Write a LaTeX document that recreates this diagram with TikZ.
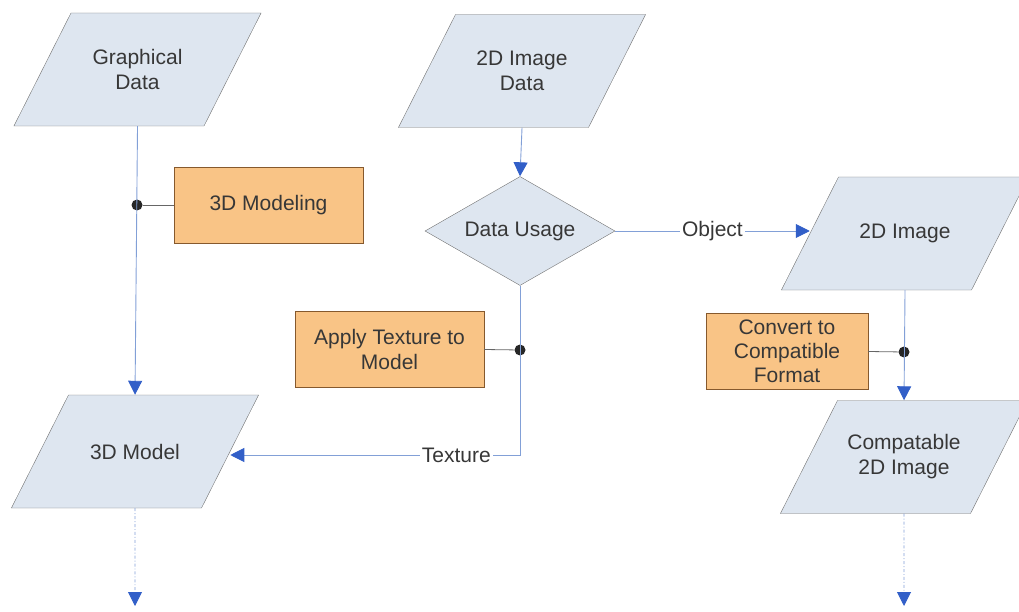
\documentclass[tikz,border=0pt]{standalone}
\usepackage{fontspec}
\setmainfont{Liberation Sans}
\usepackage{tikz}
\usetikzlibrary{positioning,shapes.geometric,arrows.meta}

\definecolor{databox}{RGB}{222,230,240}
\definecolor{procbox}{RGB}{249,196,134}
\definecolor{flowline}{RGB}{130,160,215}
\definecolor{tipblue}{RGB}{50,95,200}
\definecolor{textgray}{RGB}{55,55,55}
\newcommand{\datalabel}[1]{\parbox[c][113pt][c]{133pt}{\centering #1}}

\begin{document}
\begin{tikzpicture}[
				x=1pt, y=-1pt,
				font=\fontsize{21}{25}\selectfont, text=textgray,
				datanode/.style={trapezium, trapezium left angle=63.2, trapezium right angle=116.8, draw=gray!90!black, fill=databox, inner sep=0pt},
				decisionnode/.style={diamond, draw=gray!90!black, fill=databox, minimum width=190pt, minimum height=109pt, inner sep=0pt, aspect=1.75},
				processnode/.style={rectangle, draw=brown!70!black, fill=procbox, minimum height=76pt, inner sep=0pt, align=center},
				flow/.style={draw=flowline, line width=0.9pt, -{Triangle[length=14pt,width=14pt,color=tipblue]}},
				link/.style={draw=gray!80!black, line width=0.8pt},
				junction/.style={circle, fill=black!85, inner sep=0pt, minimum size=11pt},
				]
				\useasboundingbox (0,0) rectangle (1019,612);
				\clip (0,0) rectangle (1019,612);
				%Nodes
				\node[datanode](gdata) at (137.5,69.5){\datalabel{Graphical\\Data}};
				\node[datanode](imgdata) at (522,71){\datalabel{2D Image\\Data}};
				\node[decisionnode](usage) at (520,231){Data Usage};
				\node[datanode](img) at (905,233.5){\datalabel{2D Image}};
				\node[datanode](model) at (135,451.5){\datalabel{3D Model}};
				\node[datanode](compimg) at (904,457){\datalabel{Compatable\\2D Image}};
				\node[processnode, minimum width=189pt](modeling) at (268.5,205){3D Modeling};
				\node[processnode, minimum width=189pt](texturing) at (389.5,349.5){Apply Texture to\\Model};
				\node[processnode, minimum width=162pt, font=\fontsize{21}{24}\selectfont](convert) at (787,351.5){Convert to\\Compatible\\Format};
				\node[junction](j1) at (137,205){};
				\node[junction](j2) at (520,350){};
				\node[junction](j3) at (904,352){};
				\coordinate(corner) at (520,455);
				\coordinate(modelout) at (135,606);
				\coordinate(compout) at (904,606);
				
				%Lines
				\draw[flow] (gdata.south) -- (model.north);
				\draw[flow] (imgdata.south) -- (usage.north);
				\draw[flow] (usage.east) -- node[fill=white, inner sep=2pt]{Object} (img.west |- usage.east);
				\draw[flow] (usage.south) -- (corner) -- node[pos=0.22, fill=white, inner sep=2pt]{Texture} (model.east |- corner);
				\draw[flow] (img.south) -- (compimg.north);
				\draw[flow, dash dot] (model.south) -- (modelout);
				\draw[flow, dash dot] (compimg.south) -- (compout);
				\draw[link] (j1) -- (modeling.west);
				\draw[link] (j2) -- (texturing.east);
				\draw[link] (j3) -- (convert.east);
				
			\end{tikzpicture}
\end{document}
